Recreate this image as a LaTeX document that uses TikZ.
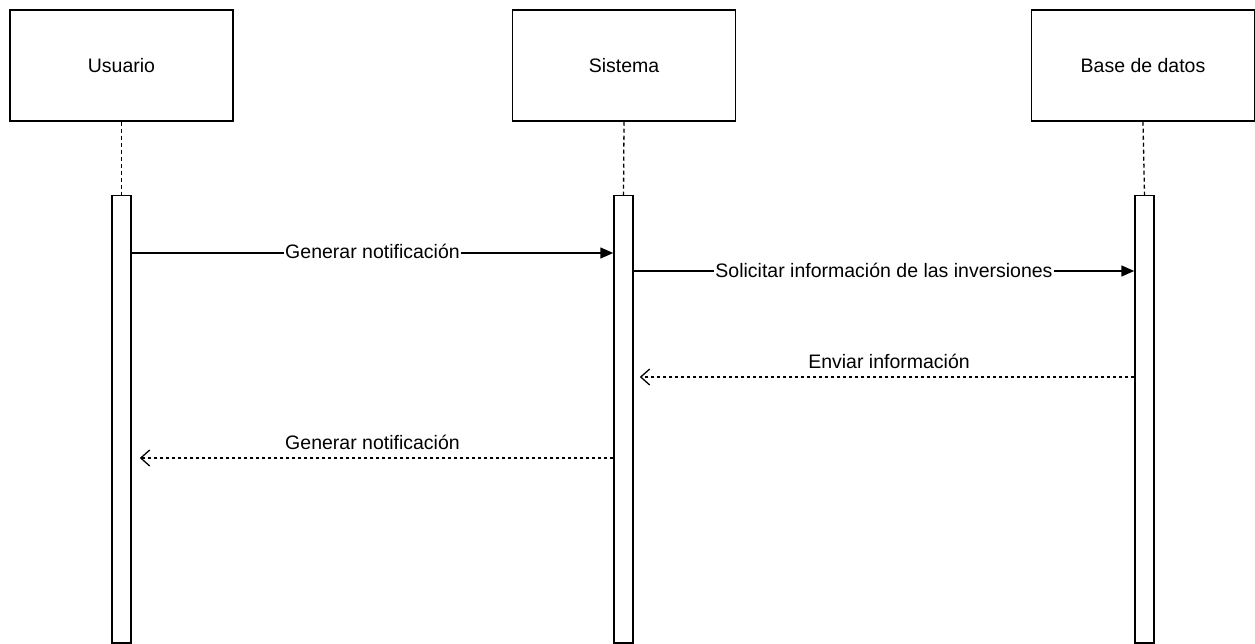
\documentclass[tikz,border=0pt]{standalone}
\usepackage{fontspec}
\setmainfont{Liberation Sans}
\usetikzlibrary{arrows.meta}
\begin{document}
\begin{tikzpicture}[x=1pt,y=-1pt,
  font=\fontsize{19.5}{23}\selectfont,
  actor/.style={draw, line width=1.5pt, minimum width=223pt, minimum height=111pt, inner sep=0pt},
  activation/.style={draw, line width=1.5pt, fill=white, minimum width=19pt, minimum height=447pt, inner sep=0pt, anchor=north},
  lifeline/.style={line width=1.3pt, dash pattern=on 4pt off 3pt},
  callmsg/.style={line width=1.5pt, -{Triangle[length=13pt,width=11pt]}},
  replymsg/.style={line width=1.3pt, dash=on 3.5pt off 2.5pt phase 0pt, -{Straight Barb[length=9pt,width=16pt,line width=1.3pt]}},
  inlabel/.style={fill=white, inner sep=1pt, anchor=base, yshift=-6pt},
  toplabel/.style={inner sep=0pt, anchor=base, yshift=9pt}]
\useasboundingbox (0,0) rectangle (1255,644);

% participants
\node[actor] (usr) at (121.5,65.5) {Usuario};
\node[actor] (sys) at (624,65.5) {Sistema};
\node[actor] (db)  at (1143,65.5) {Base de datos};

% activation bars
\node[activation] (ubar) at (121.5,195) {};
\node[activation] (sbar) at (623.5,195) {};
\node[activation] (dbar) at (1144.5,195) {};

% lifelines
\draw[lifeline] (usr.south) -- (ubar.north);
\draw[lifeline] (sys.south) -- (sbar.north);
\draw[lifeline] (db.south) -- (dbar.north);

% messages
\draw[callmsg] (ubar.east |- 0,253) -- (sbar.west |- 0,253)
  node[inlabel, midway] {Generar notificación};
\draw[callmsg] (sbar.east |- 0,271) -- (dbar.west |- 0,271)
  node[inlabel, midway] {Solicitar información de las inversiones};
\draw[replymsg, shorten >=6pt] (dbar.west |- 0,377) -- (sbar.east |- 0,377)
  node[toplabel, pos=0.49] {Enviar información};
\draw[replymsg, shorten >=8pt] (sbar.west |- 0,458) -- (ubar.east |- 0,458)
  node[toplabel, pos=0.5] {Generar notificación};
\end{tikzpicture}
\end{document}
